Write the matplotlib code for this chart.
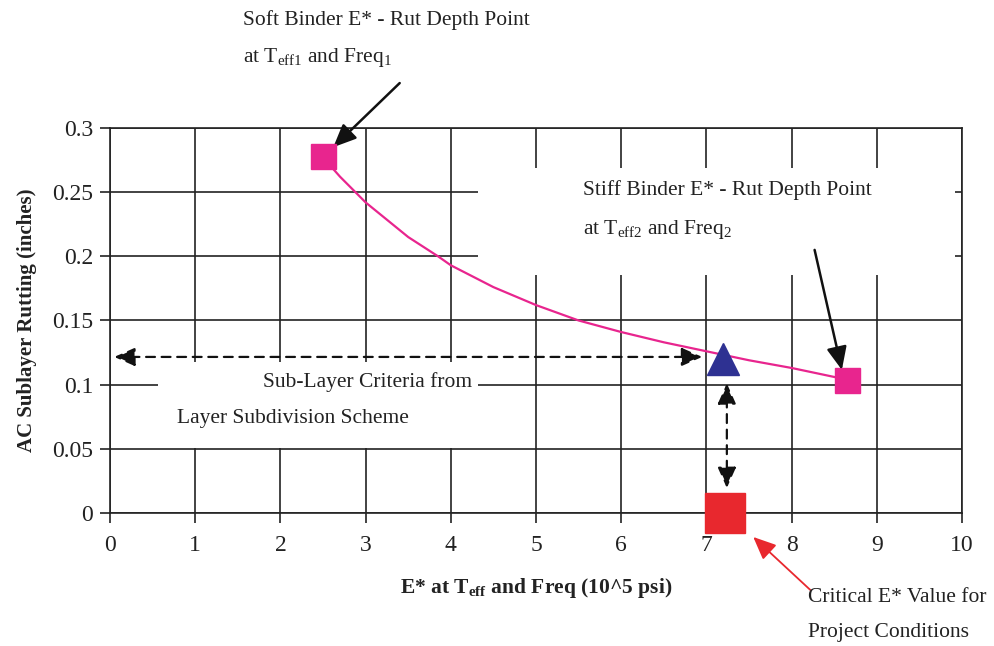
import matplotlib
matplotlib.use("Agg")
import matplotlib.pyplot as plt
from matplotlib.patches import Rectangle

plt.rcParams['font.family'] = ['Liberation Serif', 'DejaVu Serif']
plt.rcParams['mathtext.fontset'] = 'custom'
plt.rcParams['mathtext.rm'] = 'Liberation Serif'
plt.rcParams['mathtext.it'] = 'Liberation Serif:italic'
plt.rcParams['mathtext.bf'] = 'Liberation Serif:bold'

# E*-rut depth curve between soft and stiff binder points
curve_x = [2.5, 2.7, 3.0, 3.5, 3.85, 4.0, 4.5, 5.0, 5.5, 6.0, 6.5, 7.0, 7.5, 8.0, 8.5]
curve_y = [0.277, 0.262, 0.242, 0.215, 0.200, 0.193, 0.176, 0.162, 0.150, 0.141, 0.133, 0.126, 0.119, 0.113, 0.106]

soft_pt = (2.5, 0.278)
stiff_pt = (8.65, 0.104)
criteria_pt = (7.2, 0.12)
critical_pt = (7.22, 0.0)

xticks = list(range(0, 11))
yticks = [0, 0.05, 0.1, 0.15, 0.2, 0.25, 0.3]
ytick_labels = ['0', '0.05', '0.1', '0.15', '0.2', '0.25', '0.3']

pink = '#E8258E'
navy = '#2E3192'
red = '#E8282E'

fig = plt.figure(figsize=(9.94, 6.46), dpi=100)
ax = fig.add_axes([0.1107, 0.2059, 0.8571, 0.596])

ax.set_xlim(0, 10)
ax.set_ylim(0, 0.3)
ax.set_xticks(xticks)
ax.set_yticks(yticks)
ax.set_yticklabels(ytick_labels)
ax.tick_params(direction='out', length=7, width=1.2, labelsize=17, pad=5, color='#222222',
               labelcolor='#222222')
ax.tick_params(axis='x', pad=9)
ax.grid(True, color='#222222', linewidth=1.2)
ax.set_axisbelow(True)
for s in ax.spines.values():
    s.set_color('#222222')
    s.set_linewidth(1.2)

# white text boxes covering the grid
ax.add_patch(Rectangle((0.56, 0.0505), 3.76, 0.067, facecolor='white', edgecolor='none', zorder=1))
ax.add_patch(Rectangle((4.32, 0.1855), 5.6, 0.0835, facecolor='white', edgecolor='none', zorder=1))

ax.plot(curve_x, curve_y, color=pink, linewidth=1.6, zorder=3)
ax.plot(*soft_pt, marker='s', color=pink, markersize=18, zorder=4, clip_on=False)
ax.plot(*stiff_pt, marker='s', color=pink, markersize=18, zorder=4, clip_on=False)
ax.plot(*criteria_pt, marker='^', color=navy, markersize=23, zorder=4, clip_on=False)
ax.plot(*critical_pt, marker='s', color=red, markersize=29, zorder=4, clip_on=False)

# dashed double arrows
dstyle = '<|-|>,head_length=0.45,head_width=0.2'
ax.annotate('', xy=(0.05, 0.1216), xytext=(6.95, 0.1216),
            arrowprops=dict(arrowstyle=dstyle, linestyle=(0, (4, 3)), color='#111111',
                            lw=1.6, mutation_scale=28, shrinkA=0, shrinkB=0), zorder=5)
ax.annotate('', xy=(7.24, 0.101), xytext=(7.24, 0.0195),
            arrowprops=dict(arrowstyle=dstyle, linestyle=(0, (4, 3)), color='#111111',
                            lw=1.6, mutation_scale=28, shrinkA=0, shrinkB=0), zorder=5)

# annotation arrows
astyle = '-|>,head_length=0.5,head_width=0.22'
ax.annotate('', xy=(2.62, 0.285), xytext=(3.40, 0.335), annotation_clip=False,
            arrowprops=dict(arrowstyle=astyle, color='#111111', lw=1.8, mutation_scale=28,
                            shrinkA=0, shrinkB=0))
ax.annotate('', xy=(8.59, 0.1115), xytext=(8.27, 0.205),
            arrowprops=dict(arrowstyle=astyle, color='#111111', lw=1.8, mutation_scale=28,
                            shrinkA=0, shrinkB=0), zorder=5)
ax.annotate('', xy=(7.55, -0.0187), xytext=(8.22, -0.060), annotation_clip=False,
            arrowprops=dict(arrowstyle=astyle, color=red, lw=1.3, mutation_scale=28,
                            shrinkA=0, shrinkB=0))

tkw = dict(fontsize=15.5, color='#222222', va='center', ha='left', clip_on=False)
ax.text(1.56, 0.384, 'Soft Binder E* - Rut Depth Point', **tkw)
ax.text(1.56, 0.355, r'at T$_{\mathrm{eff1}}$ and Freq$_{1}$', **tkw)
ax.text(5.55, 0.2517, 'Stiff Binder E* - Rut Depth Point', zorder=6, **tkw)
ax.text(5.55, 0.2206, r'at T$_{\mathrm{eff2}}$ and Freq$_{2}$', zorder=6, **tkw)
ax.text(1.80, 0.102, 'Sub-Layer Criteria from', zorder=6, **tkw)
ax.text(0.79, 0.0733, 'Layer Subdivision Scheme', zorder=6, **tkw)
ax.text(8.19, -0.066, 'Critical E* Value for', **tkw)
ax.text(8.19, -0.0935, 'Project Conditions', **tkw)

ax.set_xlabel(r'E* at T$_{\mathbf{eff}}$ and Freq (10^5 psi)', fontsize=15.5,
              fontweight='bold', labelpad=14, color='#222222')
ax.set_ylabel('AC Sublayer Rutting (inches)', fontsize=15, fontweight='bold', labelpad=11,
              color='#222222')

fig.savefig('out.png', dpi=100)
